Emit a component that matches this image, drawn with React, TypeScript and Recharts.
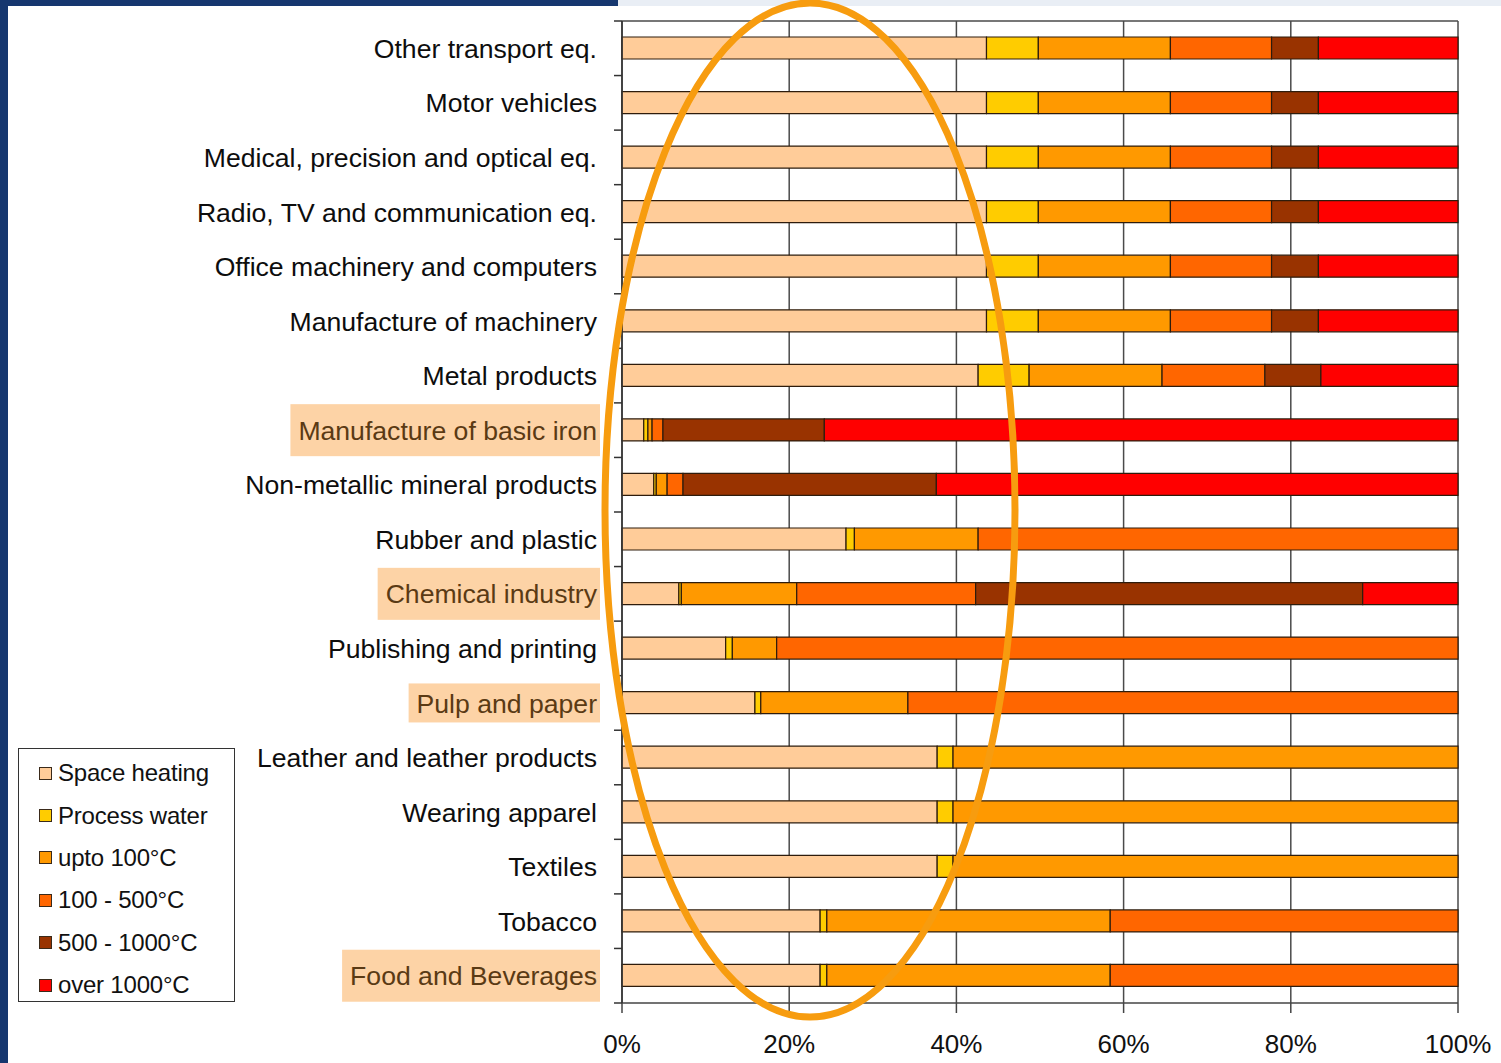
import React from 'react';
import { BarChart, Bar, XAxis, YAxis, CartesianGrid, Legend } from 'recharts';

// Industrial sectors, top to bottom
const sectors = [
  'Other transport eq.',
  'Motor vehicles',
  'Medical, precision and optical eq.',
  'Radio, TV and communication eq.',
  'Office machinery and computers',
  'Manufacture of machinery',
  'Metal products',
  'Manufacture of basic iron',
  'Non-metallic mineral products',
  'Rubber and plastic',
  'Chemical industry',
  'Publishing and printing',
  'Pulp and paper',
  'Leather and leather products',
  'Wearing apparel',
  'Textiles',
  'Tobacco',
  'Food and Beverages',
];

// Share of heat demand (%) per temperature level, in sector order
const spaceHeating = [43.6, 43.6, 43.6, 43.6, 43.6, 43.6, 42.6, 2.6, 3.8, 26.8, 6.8, 12.4, 15.9, 37.7, 37.7, 37.7, 23.7, 23.7];
const processWater = [6.2, 6.2, 6.2, 6.2, 6.2, 6.2, 6.1, 0.5, 0.3, 1.0, 0.3, 0.8, 0.7, 1.9, 1.9, 1.9, 0.8, 0.8];
const upto100 = [15.8, 15.8, 15.8, 15.8, 15.8, 15.8, 15.9, 0.5, 1.3, 14.8, 13.8, 5.3, 17.6, 60.4, 60.4, 60.4, 33.9, 33.9];
const t100to500 = [12.1, 12.1, 12.1, 12.1, 12.1, 12.1, 12.3, 1.3, 1.9, 57.4, 21.4, 81.5, 65.8, 0, 0, 0, 41.6, 41.6];
const t500to1000 = [5.6, 5.6, 5.6, 5.6, 5.6, 5.6, 6.7, 19.3, 30.3, 0, 46.3, 0, 0, 0, 0, 0, 0, 0];
const over1000 = [16.7, 16.7, 16.7, 16.7, 16.7, 16.7, 16.4, 75.8, 62.4, 0, 11.4, 0, 0, 0, 0, 0, 0, 0];

const xTicks = [0, 20, 40, 60, 80, 100];

// Sectors shown with a highlighted label, with the height of their label box
const highlighted: Record<string, number> = {
  'Manufacture of basic iron': 52,
  'Chemical industry': 52,
  'Pulp and paper': 39,
  'Food and Beverages': 52,
};

const series = [
  { key: 'space', name: 'Space heating', color: '#ffcc99' },
  { key: 'water', name: 'Process water', color: '#ffcc00' },
  { key: 'u100', name: 'upto 100°C', color: '#ff9900' },
  { key: 't500', name: '100 - 500°C', color: '#ff6600' },
  { key: 't1000', name: '500 - 1000°C', color: '#993300' },
  { key: 'over', name: 'over 1000°C', color: '#ff0000' },
];

const data = sectors.map((name, i) => ({
  name,
  space: spaceHeating[i],
  water: processWater[i],
  u100: upto100[i],
  t500: t100to500[i],
  t1000: t500to1000[i],
  over: over1000[i],
}));

const W = 1501;
const H = 1063;
const MARGIN = { top: 21, right: 43, bottom: 10, left: 0 };
const Y_AXIS_W = 622;
const X_AXIS_H = 50;
const PLOT_LEFT = MARGIN.left + Y_AXIS_W;
const PLOT_H = H - MARGIN.top - MARGIN.bottom - X_AXIS_H;
const BAND = PLOT_H / sectors.length;
const FONT = '"Liberation Sans", Arial, sans-serif';
const LABEL_SIZE = 26.6;

let measureCtx: CanvasRenderingContext2D | null = null;
const textWidth = (s: string) => {
  if (!measureCtx) {
    measureCtx = document.createElement('canvas').getContext('2d');
  }
  if (!measureCtx) return s.length * 12.5;
  measureCtx.font = `${LABEL_SIZE}px ${FONT}`;
  return measureCtx.measureText(s).width;
};

const SectorTick = (props: any) => {
  const { x, y, payload, index } = props;
  const label: string = payload.value;
  const boxH = highlighted[label];
  const tw = boxH ? textWidth(label) : 0;
  return (
    <g>
      {boxH ? (
        <rect x={x - tw - 8} y={y - boxH / 2} width={tw + 11} height={boxH} fill="#fdd3a6" />
      ) : null}
      <line x1={PLOT_LEFT - 8} x2={PLOT_LEFT} y1={y - BAND / 2} y2={y - BAND / 2} stroke="#333" strokeWidth={1.5} />
      {index === sectors.length - 1 ? (
        <line x1={PLOT_LEFT - 8} x2={PLOT_LEFT} y1={y + BAND / 2} y2={y + BAND / 2} stroke="#333" strokeWidth={1.5} />
      ) : null}
      <text
        x={x}
        y={y}
        dy="0.36em"
        textAnchor="end"
        fontFamily={FONT}
        fontSize={LABEL_SIZE}
        fill={boxH ? '#5a3a14' : '#0d0d0d'}
      >
        {label}
      </text>
    </g>
  );
};

const LegendBox = () => (
  <div
    style={{
      width: 217,
      height: 254,
      boxSizing: 'border-box',
      border: '1.5px solid #333',
      background: '#fff',
      fontFamily: FONT,
      fontSize: 24,
      color: '#111',
      paddingTop: 3,
    }}
  >
    {series.map((s) => (
      <div key={s.key} style={{ height: 42.4, display: 'flex', alignItems: 'center', paddingLeft: 20, letterSpacing: -0.2 }}>
        <span
          style={{
            display: 'inline-block',
            width: 11,
            height: 11,
            background: s.color,
            border: '1.5px solid #3a2a1a',
            marginRight: 6,
          }}
        />
        {s.name}
      </div>
    ))}
  </div>
);

const GridTop = ({ offset }: any) => [offset.top];

export default function App() {
  return (
    <div style={{ position: 'absolute', left: 0, top: 0, width: W, height: H, background: '#fff', overflow: 'hidden' }}>
      <div style={{ position: 'absolute', left: 0, top: 0, width: 618, height: 6, background: '#16376f' }} />
      <div style={{ position: 'absolute', left: 618, top: 0, width: W - 618, height: 6, background: '#e9eef5' }} />
      <div style={{ position: 'absolute', left: 0, top: 0, width: 8, height: H, background: '#16376f' }} />
      <div style={{ position: 'absolute', left: 0, top: 0 }}>
        <BarChart width={W} height={H} data={data} layout="vertical" margin={MARGIN} barSize={22}>
          <CartesianGrid
            stroke="#4a4a4a"
            strokeWidth={1.5}
            vertical
            horizontal
            horizontalCoordinatesGenerator={GridTop}
          />
          <XAxis
            type="number"
            domain={[0, 100]}
            ticks={xTicks}
            tickFormatter={(v: number) => `${v}%`}
            height={X_AXIS_H}
            axisLine={{ stroke: '#444', strokeWidth: 1.5 }}
            tickLine={{ stroke: '#444', strokeWidth: 1.5 }}
            tickSize={10}
            tickMargin={22}
            tick={{ fontFamily: FONT, fontSize: 26, fill: '#111' }}
            interval={0}
          />
          <YAxis
            type="category"
            dataKey="name"
            width={Y_AXIS_W}
            axisLine={{ stroke: '#333', strokeWidth: 1.5 }}
            tickLine={false}
            tickSize={8}
            tickMargin={17}
            tick={<SectorTick />}
            interval={0}
          />
          <Legend
            layout="vertical"
            align="center"
            verticalAlign="middle"
            content={<LegendBox />}
            wrapperStyle={{ left: 18, top: 748, width: 217, height: 254 }}
          />
          {series.map((s) => (
            <Bar
              key={s.key}
              dataKey={s.key}
              name={s.name}
              stackId="heat"
              fill={s.color}
              stroke="#2e1c0c"
              strokeWidth={1.2}
              isAnimationActive={false}
            />
          ))}
        </BarChart>
      </div>
      <svg width={W} height={H} style={{ position: 'absolute', left: 0, top: 0, pointerEvents: 'none' }}>
        <ellipse cx={810} cy={510} rx={205} ry={507} fill="none" stroke="#f79c0f" strokeWidth={7} />
      </svg>
    </div>
  );
}
